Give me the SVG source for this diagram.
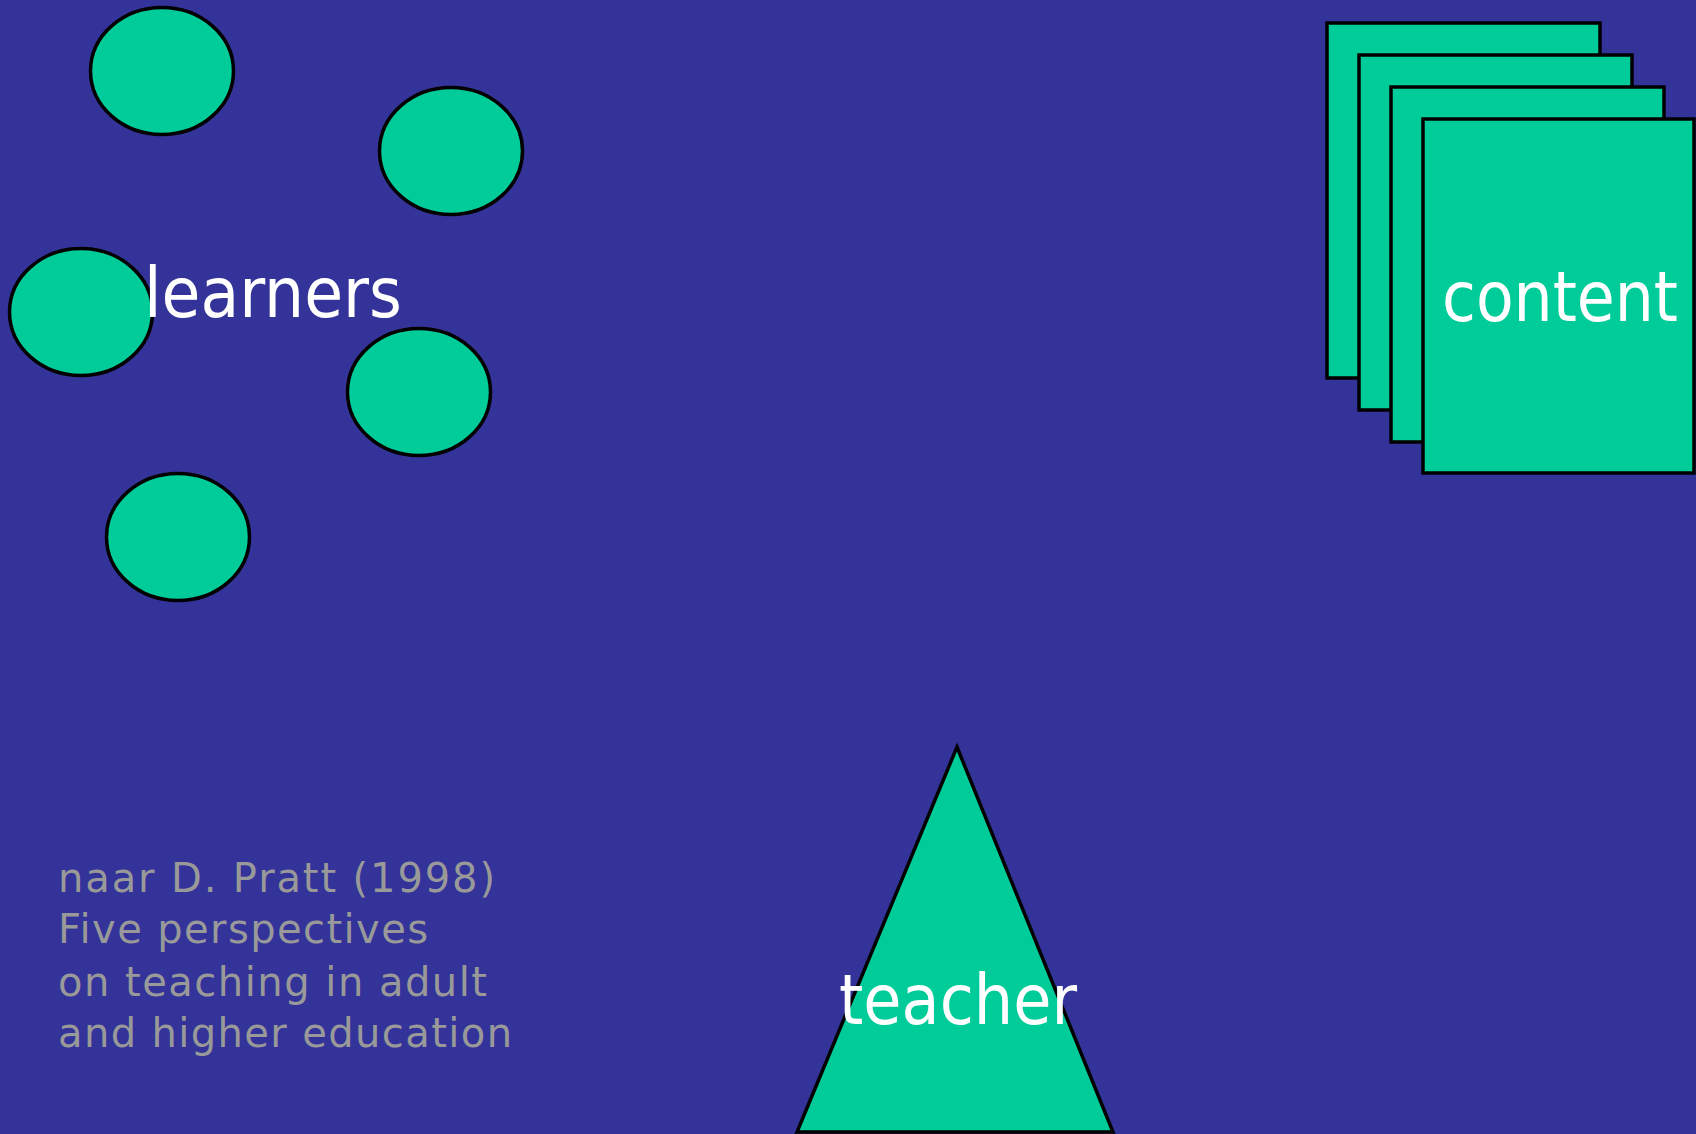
<svg xmlns="http://www.w3.org/2000/svg" width="1696" height="1134" viewBox="0 0 1696 1134">
<style>
.shape{fill:#00CC99;stroke:#000000;stroke-width:3.5}
.label{font-family:"DejaVu Sans","Verdana","Liberation Sans",sans-serif;font-size:70px;fill:#FFFFFF}
.cite{font-family:"DejaVu Sans","Verdana","Liberation Sans",sans-serif;font-size:40px;fill:#999999}
</style>
<rect x="0" y="0" width="1696" height="1134" fill="#333399"/>
<g id="learners">
<ellipse class="shape" cx="162" cy="71" rx="71.5" ry="63.5"/>
<ellipse class="shape" cx="451" cy="151" rx="71.5" ry="63.5"/>
<ellipse class="shape" cx="81" cy="312" rx="71.5" ry="63.5"/>
<ellipse class="shape" cx="419" cy="392" rx="71.5" ry="63.5"/>
<ellipse class="shape" cx="178" cy="537" rx="71.5" ry="63.5"/>
<text class="label" x="144" y="317" textLength="258" lengthAdjust="spacingAndGlyphs">learners</text>
</g>
<g id="content">
<rect class="shape" x="1327" y="23" width="273" height="355"/>
<rect class="shape" x="1359" y="55" width="273" height="355"/>
<rect class="shape" x="1391" y="87" width="273" height="355"/>
<rect class="shape" x="1423" y="119" width="271" height="354"/>
<text class="label" x="1442" y="321" textLength="236" lengthAdjust="spacingAndGlyphs">content</text>
</g>
<g id="teacher">
<polygon class="shape" points="957,747 1113,1132 797,1132"/>
<text class="label" x="839" y="1024" textLength="238" lengthAdjust="spacingAndGlyphs">teacher</text>
</g>
<g id="citation">
<text class="cite" x="58" y="892" textLength="437" lengthAdjust="spacing">naar D. Pratt (1998)</text>
<text class="cite" x="58" y="943" textLength="370" lengthAdjust="spacing">Five perspectives</text>
<text class="cite" x="58" y="996" textLength="429" lengthAdjust="spacing">on teaching in adult</text>
<text class="cite" x="58" y="1047" textLength="454" lengthAdjust="spacing">and higher education</text>
</g>
<g id="connectors"/>
</svg>
